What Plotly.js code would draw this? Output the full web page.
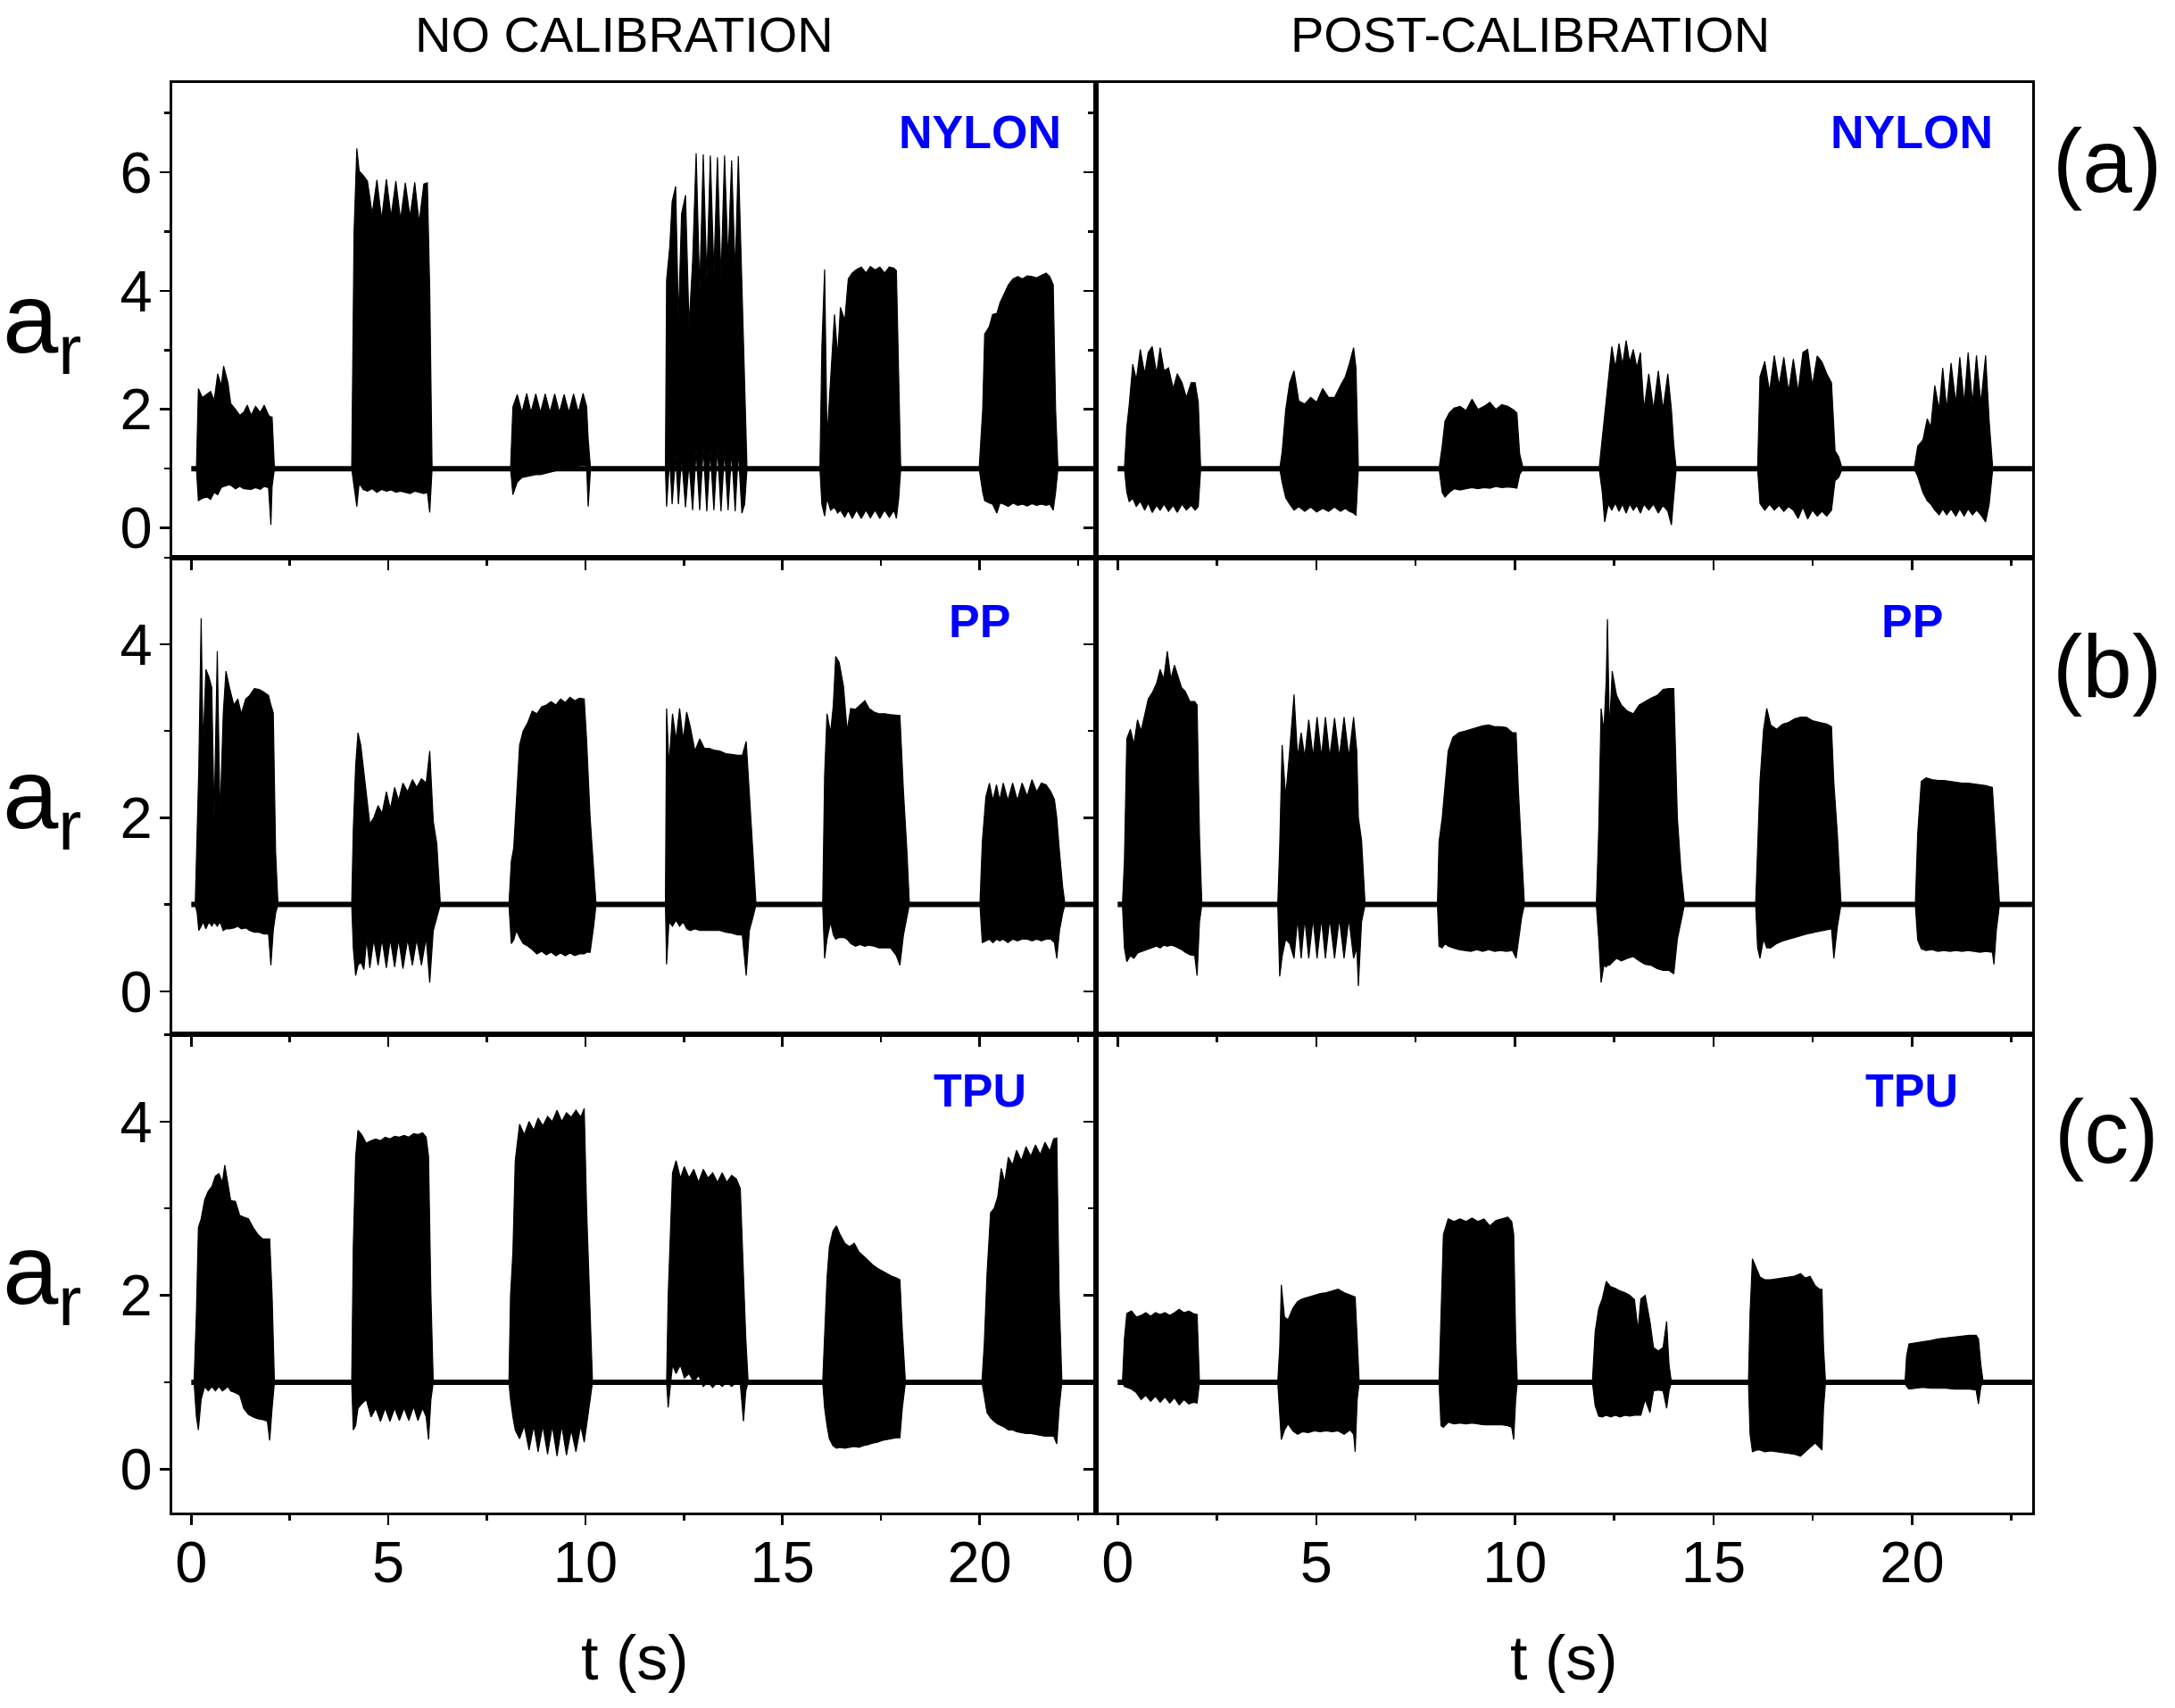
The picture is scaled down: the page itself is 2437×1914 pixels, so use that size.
<!DOCTYPE html>
<html>
<head>
<meta charset="utf-8">
<script src="https://cdn.plot.ly/plotly-3.0.1.min.js"></script>
<style>html,body{margin:0;padding:0;background:#fff;}#chart{width:2437px;height:1914px;}</style>
</head>
<body>
<div id="chart"></div>
<script>
// ---------------- DATA ----------------
// Each burst is described by its envelope: sample times, upper and lower a_r values.
// Bursts are separated by null.
const columnTitles = ["NO CALIBRATION", "POST-CALIBRATION"];
const rowTags = ["(a)", "(b)", "(c)"];
const materials = ["NYLON", "PP", "TPU"];
const xTickValues = [0, 5, 10, 15, 20];

const baselineT = [0, 23.1];
const baselineA = [1, 1];

// NYLON, no calibration
const nylonRawT = [
 0.13,0.18,0.28,0.40,0.49,0.58,0.67,0.76,0.82,0.93,1.00,1.12,1.23,1.33,1.42,1.52,1.63,1.75,1.85,1.96,2.02,2.05,2.11,null,
 4.07,4.13,4.20,4.26,4.36,4.47,4.59,4.71,4.83,4.95,5.07,5.19,5.31,5.43,5.55,5.67,5.78,5.90,5.99,6.05,6.11,null,
 8.10,8.16,8.27,8.39,8.51,8.62,8.74,8.86,8.98,9.10,9.22,9.34,9.46,9.58,9.70,9.82,9.94,10.03,10.07,10.13,null,
 12.03,12.06,12.14,12.20,12.29,12.36,12.44,12.54,12.63,12.72,12.81,12.90,12.99,13.08,13.17,13.26,13.35,13.44,13.53,13.62,13.71,13.80,13.88,13.97,14.04,14.10,null,
 15.95,16.00,16.07,16.13,16.22,16.32,16.40,16.47,16.58,16.67,16.77,16.88,17.00,17.12,17.23,17.35,17.47,17.59,17.71,17.83,17.89,17.95,18.00,null,
 19.99,20.08,20.13,20.25,20.33,20.44,20.52,20.61,20.73,20.85,20.97,21.09,21.21,21.33,21.45,21.57,21.69,21.78,21.87,21.93,21.99];
const nylonRawHi = [
 1,2.35,2.2,2.25,2.3,2.15,2.6,2.4,2.73,2.45,2.1,2.0,1.9,1.95,2.07,1.9,2.05,1.95,2.07,1.9,1.87,1.87,1,null,
 1,5.0,6.4,6.02,5.95,5.85,5.3,5.87,5.2,5.88,5.25,5.85,5.2,5.82,5.25,5.83,5.15,5.8,5.82,4.0,1,null,
 1,2.04,2.25,1.95,2.27,1.95,2.26,1.95,2.26,1.95,2.26,1.95,2.25,1.95,2.26,1.95,2.27,2.05,1.5,1,null,
 1,4.18,4.74,5.5,5.76,3.5,5.3,5.61,3.4,4.5,6.32,4.0,6.3,4.2,6.28,4.3,6.25,4.2,6.28,4.5,6.2,4.3,6.27,4.0,2.5,1,null,
 1,3.06,4.36,1.5,2.5,3.6,2.9,3.72,3.5,4.2,4.3,4.36,4.4,4.3,4.41,4.35,4.4,4.3,4.4,4.38,4.34,2.5,1,null,
 1,2.0,3.27,3.4,3.6,3.62,3.8,3.93,4.1,4.2,4.24,4.2,4.25,4.24,4.22,4.26,4.3,4.24,4.1,2.0,1];
const nylonRawLo = [
 1,0.46,0.5,0.52,0.48,0.6,0.56,0.68,0.7,0.72,0.72,0.66,0.7,0.66,0.66,0.65,0.68,0.65,0.7,0.68,0.05,0.7,1,null,
 1,0.7,0.36,0.75,0.65,0.62,0.66,0.6,0.65,0.62,0.64,0.6,0.62,0.6,0.58,0.62,0.6,0.58,0.6,0.26,1,null,
 1,0.56,0.77,0.85,0.86,0.88,0.9,0.9,0.92,0.94,0.96,0.98,1.0,1.02,1.04,1.05,1.06,1.05,0.36,1,null,
 1,0.36,1.2,0.4,1.22,0.4,1.2,0.35,1.1,0.3,1.3,0.3,1.35,0.28,1.3,0.3,1.35,0.28,1.3,0.3,1.3,0.28,1.3,0.25,0.4,1,null,
 1,0.4,0.2,0.5,0.3,0.35,0.25,0.3,0.18,0.3,0.16,0.3,0.16,0.3,0.17,0.3,0.16,0.3,0.18,0.3,0.16,0.5,1,null,
 1,0.6,0.46,0.42,0.4,0.25,0.42,0.4,0.36,0.42,0.38,0.4,0.37,0.41,0.38,0.4,0.38,0.4,0.3,0.6,1];

// NYLON, post-calibration
const nylonCalT = [
 0.17,0.23,0.29,0.38,0.47,0.57,0.68,0.77,0.87,0.98,1.07,1.17,1.28,1.40,1.50,1.62,1.73,1.85,1.95,2.03,2.09,null,
 4.08,4.14,4.23,4.33,4.44,4.56,4.71,4.86,5.01,5.16,5.31,5.46,5.61,5.73,5.83,5.94,6.00,6.06,null,
 8.09,8.17,8.24,8.35,8.47,8.62,8.77,8.92,9.07,9.22,9.37,9.52,9.67,9.82,9.97,10.05,10.12,10.21,null,
 12.12,12.20,12.26,12.35,12.44,12.53,12.62,12.71,12.80,12.89,12.98,13.07,13.16,13.25,13.37,13.49,13.61,13.73,13.85,13.94,14.00,14.06,null,
 16.11,16.17,16.29,16.41,16.53,16.65,16.77,16.89,17.01,17.13,17.25,17.37,17.49,17.61,17.73,17.85,17.97,18.06,18.15,18.24,null,
 20.05,20.14,20.27,20.38,20.47,20.57,20.68,20.77,20.87,20.98,21.10,21.20,21.31,21.41,21.52,21.62,21.73,21.85,21.94,22.03];
const nylonCalHi = [
 1,1.7,2.07,2.76,2.5,3.01,2.6,2.96,3.06,2.6,3.04,2.65,2.7,2.35,2.6,2.45,2.2,2.45,2.45,2.12,1,null,
 1,1.28,1.99,2.45,2.65,2.14,2.09,2.2,2.12,2.35,2.2,2.2,2.4,2.55,2.76,3.04,2.7,1,null,
 1,1.38,1.8,1.94,2.02,2.05,1.98,2.17,2.0,2.05,2.12,2.0,2.08,2.05,1.99,1.94,1.25,1,null,
 1,1.5,1.89,2.45,3.06,2.7,3.11,2.75,3.16,2.8,3.01,2.7,2.96,2.0,2.6,2.0,2.65,2.0,2.6,2.0,1.4,1,null,
 1,2.55,2.81,2.3,2.91,2.4,2.88,2.3,2.85,2.3,2.96,3.01,2.4,2.9,2.8,2.6,2.45,1.3,1.2,1,null,
 1,1.38,1.48,1.84,1.7,2.4,2.0,2.7,2.0,2.78,2.1,2.88,2.1,2.96,2.1,2.91,2.1,2.91,1.8,1];
const nylonCalLo = [
 1,0.6,0.44,0.5,0.36,0.45,0.3,0.42,0.26,0.38,0.3,0.4,0.28,0.38,0.26,0.4,0.3,0.38,0.3,0.36,1,null,
 1,0.77,0.51,0.4,0.3,0.36,0.28,0.35,0.27,0.33,0.28,0.35,0.28,0.33,0.28,0.25,0.21,1,null,
 1,0.6,0.52,0.6,0.66,0.64,0.66,0.68,0.66,0.68,0.67,0.7,0.68,0.69,0.68,0.67,0.9,1,null,
 1,0.6,0.1,0.4,0.3,0.42,0.28,0.4,0.25,0.4,0.3,0.38,0.25,0.4,0.3,0.4,0.25,0.38,0.28,0.05,0.5,1,null,
 1,0.41,0.3,0.4,0.3,0.38,0.28,0.36,0.3,0.16,0.35,0.15,0.3,0.2,0.28,0.2,0.3,0.8,0.85,1,null,
 1,0.87,0.6,0.46,0.4,0.3,0.22,0.32,0.22,0.32,0.2,0.32,0.2,0.32,0.22,0.3,0.22,0.1,0.4,1];

// PP, no calibration
const ppRawT = [
 0.10,0.15,0.19,0.25,0.30,0.37,0.45,0.52,0.58,0.66,0.73,0.81,0.88,0.97,1.08,1.18,1.27,1.38,1.48,1.60,1.72,1.84,1.96,2.02,2.08,2.14,2.20,null,
 4.07,4.11,4.17,4.23,4.30,4.38,4.45,4.53,4.63,4.74,4.84,4.95,5.05,5.16,5.26,5.37,5.49,5.61,5.72,5.84,5.96,6.05,6.14,6.23,6.32,null,
 8.06,8.12,8.18,8.25,8.33,8.42,8.54,8.65,8.77,8.89,9.01,9.13,9.25,9.37,9.49,9.61,9.73,9.85,9.97,10.03,10.12,10.21,10.27,null,
 12.03,12.06,12.12,12.21,12.30,12.39,12.48,12.57,12.66,12.78,12.90,13.02,13.14,13.26,13.41,13.56,13.71,13.86,13.98,14.08,14.16,14.25,14.33,null,
 16.02,16.07,16.13,16.22,16.29,16.35,16.44,16.55,16.64,16.73,16.85,16.97,17.09,17.20,17.32,17.44,17.59,17.74,17.89,17.98,18.07,18.16,18.22,null,
 20.01,20.07,20.16,20.25,20.34,20.43,20.51,20.60,20.72,20.84,20.96,21.08,21.21,21.33,21.45,21.57,21.69,21.81,21.90,21.96,22.03,22.11,22.17];
const ppRawHi = [
 1,2.0,2.56,4.3,2.8,3.71,3.62,3.5,2.0,3.92,2.0,3.2,3.69,3.5,3.3,3.37,3.2,3.37,3.41,3.49,3.48,3.45,3.41,3.3,3.21,1.6,1,null,
 1,1.86,2.6,2.98,2.84,2.5,2.2,1.93,2.0,2.14,2.05,2.3,2.1,2.35,2.2,2.4,2.3,2.44,2.35,2.45,2.4,2.77,1.96,1.7,1,null,
 1,1.5,1.65,2.21,2.84,3.0,3.1,3.23,3.2,3.28,3.3,3.34,3.3,3.37,3.33,3.39,3.35,3.38,3.37,2.9,2.0,1.4,1,null,
 1,3.26,2.6,3.2,2.9,3.26,2.9,3.22,3.05,2.77,2.91,2.8,2.8,2.78,2.77,2.74,2.73,2.72,2.72,2.88,2.28,1.6,1,null,
 1,2.5,3.2,2.98,3.3,3.86,3.79,3.51,3.0,3.26,3.25,3.3,3.35,3.26,3.22,3.2,3.2,3.19,3.18,3.18,2.3,1.6,1,null,
 1,1.72,2.24,2.4,2.2,2.38,2.2,2.4,2.2,2.4,2.2,2.4,2.25,2.44,2.3,2.4,2.38,2.3,2.21,2.0,1.6,1.2,1];
const ppRawLo = [
 1,0.9,0.7,0.75,0.8,0.72,0.8,0.75,0.8,0.75,0.8,0.7,0.72,0.72,0.73,0.75,0.72,0.73,0.7,0.68,0.68,0.66,0.66,0.3,0.7,0.9,1,null,
 1,0.5,0.18,0.3,0.34,0.25,0.6,0.27,0.6,0.3,0.6,0.27,0.6,0.28,0.6,0.26,0.6,0.3,0.6,0.3,0.62,0.1,0.7,0.85,1,null,
 1,0.55,0.59,0.7,0.62,0.55,0.52,0.48,0.43,0.46,0.42,0.45,0.41,0.44,0.41,0.44,0.41,0.43,0.43,0.45,0.45,0.75,1,null,
 1,0.31,0.8,0.75,0.82,0.75,0.8,0.72,0.7,0.72,0.7,0.7,0.7,0.7,0.7,0.68,0.67,0.65,0.65,0.18,0.7,0.85,1,null,
 1,0.38,0.6,0.8,0.65,0.6,0.62,0.62,0.6,0.55,0.52,0.54,0.52,0.53,0.52,0.5,0.5,0.5,0.41,0.3,0.65,0.85,1,null,
 1,0.56,0.58,0.6,0.56,0.6,0.58,0.6,0.56,0.6,0.58,0.6,0.6,0.58,0.6,0.58,0.6,0.6,0.56,0.38,0.7,0.9,1];

// PP, post-calibration
const ppCalT = [
 0.12,0.17,0.23,0.32,0.41,0.50,0.59,0.68,0.77,0.87,0.98,1.07,1.16,1.25,1.34,1.43,1.52,1.61,1.70,1.82,1.94,2.00,2.06,2.12,null,
 4.03,4.08,4.14,4.23,4.33,4.44,4.53,4.62,4.71,4.81,4.92,5.02,5.13,5.23,5.34,5.46,5.58,5.70,5.82,5.94,6.02,6.06,6.14,6.23,null,
 8.05,8.09,8.17,8.24,8.32,8.44,8.59,8.74,8.89,9.04,9.19,9.34,9.49,9.64,9.79,9.94,10.03,10.09,10.17,10.24,null,
 12.05,12.11,12.17,12.24,12.30,12.33,12.38,12.45,12.56,12.68,12.83,12.98,13.13,13.28,13.43,13.58,13.73,13.88,14.00,14.09,14.18,14.27,null,
 16.06,16.11,16.17,16.26,16.34,16.44,16.59,16.74,16.89,17.04,17.19,17.34,17.49,17.67,17.85,17.97,18.03,18.12,18.21,null,
 20.08,20.14,20.23,20.35,20.50,20.65,20.80,20.95,21.10,21.26,21.41,21.56,21.71,21.86,22.02,22.06,22.12,22.20];
const ppCalHi = [
 1,1.5,2.91,3.02,2.85,3.13,3.0,3.2,3.37,3.44,3.55,3.71,3.6,3.92,3.6,3.76,3.64,3.5,3.46,3.34,3.34,3.3,1.8,1,null,
 1,1.68,2.84,2.24,2.77,3.42,2.7,2.98,2.7,3.13,2.7,3.16,2.7,3.16,2.7,3.15,2.7,3.16,2.7,3.16,2.77,2.0,1.74,1,null,
 1,1.72,2.0,2.39,2.77,2.93,2.98,3.0,3.02,3.04,3.06,3.07,3.05,3.05,3.04,2.98,2.98,2.3,1.6,1,null,
 1,1.86,3.26,3.0,3.6,4.29,3.0,3.69,3.41,3.3,3.23,3.2,3.3,3.34,3.38,3.41,3.48,3.49,3.49,2.0,1.4,1,null,
 1,1.7,2.42,3.02,3.26,3.07,3.02,3.08,3.1,3.14,3.16,3.16,3.12,3.1,3.08,3.05,2.4,1.8,1,null,
 1,1.82,2.42,2.46,2.44,2.43,2.43,2.42,2.41,2.4,2.4,2.39,2.38,2.37,2.35,2.0,1.6,1];
const ppCalLo = [
 1,0.5,0.34,0.41,0.38,0.44,0.45,0.47,0.49,0.5,0.52,0.5,0.53,0.52,0.53,0.52,0.5,0.48,0.45,0.42,0.41,0.18,0.8,1,null,
 1,0.17,0.4,0.6,0.55,0.38,0.84,0.38,0.84,0.38,0.84,0.38,0.84,0.38,0.84,0.38,0.84,0.38,0.84,0.38,0.5,0.06,0.8,1,null,
 1,0.52,0.5,0.55,0.52,0.5,0.48,0.47,0.46,0.48,0.46,0.48,0.46,0.47,0.46,0.47,0.38,0.55,0.85,1,null,
 1,0.6,0.1,0.3,0.28,0.3,0.3,0.33,0.38,0.35,0.38,0.4,0.35,0.31,0.3,0.26,0.24,0.24,0.2,0.6,0.8,1,null,
 1,0.5,0.38,0.6,0.5,0.5,0.55,0.58,0.6,0.62,0.64,0.66,0.68,0.69,0.71,0.72,0.38,0.75,1,null,
 1,0.59,0.49,0.47,0.48,0.46,0.47,0.46,0.47,0.46,0.47,0.46,0.45,0.46,0.45,0.31,0.7,1];

// TPU, no calibration
const tpuRawT = [
 0.07,0.13,0.18,0.25,0.34,0.43,0.52,0.61,0.70,0.79,0.85,0.93,1.00,1.12,1.23,1.33,1.45,1.57,1.69,1.81,1.93,1.99,2.05,2.11,null,
 4.07,4.11,4.17,4.23,4.32,4.44,4.56,4.68,4.80,4.92,5.04,5.16,5.28,5.40,5.52,5.64,5.75,5.87,5.96,6.02,6.08,6.14,null,
 8.06,8.10,8.16,8.22,8.33,8.45,8.57,8.69,8.80,8.92,9.04,9.16,9.28,9.40,9.52,9.64,9.76,9.88,9.97,10.03,10.12,10.18,null,
 12.06,12.10,12.15,12.21,12.30,12.41,12.51,12.63,12.75,12.87,12.99,13.11,13.23,13.35,13.47,13.59,13.71,13.83,13.93,14.01,14.07,14.13,null,
 16.02,16.07,16.13,16.19,16.28,16.37,16.46,16.58,16.70,16.82,16.94,17.06,17.17,17.29,17.41,17.53,17.65,17.77,17.89,17.98,18.04,18.12,null,
 20.06,20.12,20.19,20.28,20.37,20.46,20.55,20.64,20.73,20.84,20.94,21.06,21.18,21.30,21.42,21.54,21.66,21.78,21.88,21.96,22.02,22.09];
const tpuRawHi = [
 1,1.8,2.78,2.88,3.1,3.2,3.25,3.37,3.4,3.3,3.5,3.3,3.09,3.08,2.92,2.9,2.88,2.78,2.7,2.65,2.65,2.65,2.0,1,null,
 1,2.56,3.6,3.9,3.85,3.75,3.78,3.8,3.78,3.82,3.8,3.83,3.82,3.84,3.82,3.86,3.85,3.87,3.82,3.6,2.0,1,null,
 1,2.0,2.5,3.55,3.97,3.85,4.0,3.9,4.04,3.95,4.06,4.0,4.13,4.0,4.1,4.05,4.13,4.05,4.15,3.0,1.8,1,null,
 1,2.0,2.63,3.41,3.55,3.35,3.48,3.35,3.45,3.3,3.45,3.35,3.41,3.3,3.41,3.3,3.38,3.34,3.23,2.3,1.5,1,null,
 1,1.5,2.2,2.56,2.74,2.8,2.7,2.6,2.56,2.6,2.5,2.45,2.4,2.35,2.31,2.28,2.25,2.22,2.2,2.18,1.6,1,null,
 1,1.44,2.25,2.95,3.0,3.13,3.46,3.3,3.59,3.5,3.67,3.55,3.71,3.6,3.73,3.62,3.76,3.66,3.8,3.81,2.0,1];
const tpuRawLo = [
 1,0.6,0.45,0.8,0.95,0.9,0.95,0.9,0.95,0.9,0.92,0.95,0.9,0.88,0.85,0.7,0.63,0.6,0.58,0.57,0.55,0.33,0.7,1,null,
 1,0.45,0.5,0.7,0.75,0.8,0.6,0.7,0.55,0.7,0.55,0.7,0.56,0.7,0.56,0.72,0.56,0.7,0.6,0.34,0.8,1,null,
 1,0.8,0.6,0.45,0.35,0.5,0.22,0.5,0.2,0.5,0.17,0.5,0.15,0.5,0.16,0.45,0.2,0.5,0.31,0.5,0.8,1,null,
 1,0.71,0.9,1.2,1.1,1.2,1.05,1.1,1.0,1.08,0.95,1.0,0.94,1.0,0.95,1.0,0.95,1.0,0.98,0.55,0.9,1,null,
 1,0.7,0.5,0.35,0.27,0.24,0.25,0.24,0.25,0.26,0.25,0.27,0.28,0.3,0.31,0.33,0.34,0.35,0.36,0.36,0.7,1,null,
 1,0.85,0.65,0.59,0.55,0.52,0.5,0.48,0.45,0.45,0.43,0.42,0.41,0.41,0.4,0.39,0.38,0.38,0.38,0.29,0.7,1];

// TPU, post-calibration
const tpuCalT = [
 0.12,0.17,0.23,0.35,0.47,0.59,0.71,0.83,0.95,1.07,1.19,1.31,1.43,1.55,1.67,1.79,1.91,2.00,2.06,null,
 4.03,4.08,4.12,4.20,4.29,4.41,4.53,4.65,4.80,4.95,5.10,5.25,5.40,5.55,5.70,5.85,5.94,5.98,6.03,6.08,null,
 8.09,8.14,8.20,8.32,8.47,8.62,8.77,8.92,9.07,9.22,9.37,9.52,9.67,9.82,9.92,9.97,10.02,10.06,null,
 11.95,12.02,12.11,12.20,12.30,12.41,12.53,12.65,12.77,12.89,13.01,13.10,13.17,13.28,13.40,13.49,13.61,13.73,13.82,13.88,13.94,null,
 15.88,15.92,15.98,16.08,16.17,16.29,16.44,16.59,16.74,16.89,17.04,17.19,17.31,17.43,17.56,17.67,17.73,17.77,17.82,null,
 19.82,19.86,19.92,20.08,20.27,20.47,20.66,20.86,21.05,21.25,21.44,21.61,21.67,21.73,21.79];
const tpuCalHi = [
 1,1.5,1.79,1.82,1.75,1.77,1.8,1.76,1.8,1.78,1.8,1.77,1.8,1.84,1.8,1.82,1.79,1.78,1,null,
 1,1.4,2.12,1.75,1.72,1.85,1.93,1.96,1.98,2.0,2.02,2.03,2.05,2.07,2.03,2.0,1.98,1.98,1.5,1,null,
 1,1.8,2.7,2.88,2.85,2.88,2.85,2.89,2.85,2.88,2.8,2.86,2.88,2.9,2.85,2.7,1.5,1,null,
 1,1.58,1.85,1.96,2.16,2.1,2.08,2.05,2.03,2.0,1.95,1.6,1.96,2.0,1.7,1.4,1.36,1.4,1.7,1.2,1,null,
 1,1.8,2.42,2.3,2.21,2.18,2.18,2.19,2.2,2.21,2.22,2.25,2.2,2.22,2.11,2.07,2.07,1.4,1,null,
 1,1.3,1.44,1.45,1.46,1.48,1.5,1.51,1.52,1.53,1.54,1.54,1.5,1.2,1];
const tpuCalLo = [
 1,0.95,0.94,0.92,0.88,0.8,0.85,0.78,0.84,0.77,0.83,0.76,0.82,0.74,0.8,0.75,0.77,0.76,1,null,
 1,0.7,0.34,0.45,0.52,0.44,0.4,0.43,0.42,0.44,0.43,0.44,0.43,0.44,0.4,0.45,0.4,0.2,0.8,1,null,
 1,0.5,0.48,0.54,0.52,0.53,0.52,0.53,0.52,0.51,0.51,0.51,0.51,0.5,0.48,0.34,0.8,1,null,
 1,0.73,0.61,0.6,0.62,0.6,0.62,0.6,0.62,0.61,0.62,0.62,0.62,0.8,0.65,0.9,0.91,0.9,0.7,0.9,1,null,
 1,0.4,0.2,0.22,0.22,0.2,0.21,0.2,0.19,0.18,0.17,0.15,0.2,0.25,0.3,0.25,0.22,0.7,1,null,
 1,0.95,0.92,0.93,0.94,0.93,0.93,0.93,0.92,0.92,0.92,0.91,0.75,0.95,1];

// ---------------- BUILD ----------------
const FONT = "Liberation Sans, Arial, Helvetica, sans-serif";
const panels = [
  {r:0,c:0,T:nylonRawT,Hi:nylonRawHi,Lo:nylonRawLo},
  {r:0,c:1,T:nylonCalT,Hi:nylonCalHi,Lo:nylonCalLo},
  {r:1,c:0,T:ppRawT,Hi:ppRawHi,Lo:ppRawLo},
  {r:1,c:1,T:ppCalT,Hi:ppCalHi,Lo:ppCalLo},
  {r:2,c:0,T:tpuRawT,Hi:tpuRawHi,Lo:tpuRawLo},
  {r:2,c:1,T:tpuCalT,Hi:tpuCalHi,Lo:tpuCalLo}
];
const colDom = [[0.07907,0.50382],[0.50382,0.93430]];
const rowDom = [[0.67356,0.95125],[0.39425,0.67356],[0.11442,0.39425]];
const xRanges = [[-0.49,22.95],[-0.55,23.02]];
const yRanges = [[-0.5,7.5],[-0.5,5.0],[-0.5,5.0]];
const labelY = [6.67,4.27,4.36];

function envelopePolygons(T, Hi, Lo){
  const xs=[], ys=[];
  let st=[], sh=[], sl=[];
  const flush=()=>{
    if(st.length){
      xs.push(...st, ...st.slice().reverse(), null);
      ys.push(...sh, ...sl.slice().reverse(), null);
    }
    st=[]; sh=[]; sl=[];
  };
  for(let i=0;i<T.length;i++){
    if(T[i]===null){ flush(); }
    else { st.push(T[i]); sh.push(Hi[i]); sl.push(Lo[i]); }
  }
  flush();
  return {xs, ys};
}

const traces = [];
const layout = {
  width: 2437, height: 1914,
  margin: {l:0,r:0,t:0,b:0},
  paper_bgcolor: '#fff', plot_bgcolor: '#fff',
  showlegend: false,
  font: {family: FONT, color: '#000', size: 40},
  annotations: []
};

panels.forEach(p=>{
  const idx = p.r*2 + p.c + 1;
  const xa = idx===1 ? 'x' : 'x'+idx;
  const ya = idx===1 ? 'y' : 'y'+idx;
  const xk = idx===1 ? 'xaxis' : 'xaxis'+idx;
  const yk = idx===1 ? 'yaxis' : 'yaxis'+idx;
  traces.push({
    type:'scatter', mode:'lines', x: baselineT, y: baselineA,
    xaxis: xa, yaxis: ya, line:{color:'#000', width:6}, hoverinfo:'skip'
  });
  const poly = envelopePolygons(p.T, p.Hi, p.Lo);
  traces.push({
    type:'scatter', mode:'lines', x: poly.xs, y: poly.ys, fill:'toself',
    fillcolor:'#000', line:{color:'#000', width:1.2}, connectgaps:false,
    xaxis: xa, yaxis: ya, hoverinfo:'skip'
  });
  layout[xk] = {
    domain: colDom[p.c], range: xRanges[p.c], anchor: ya,
    showline:true, mirror:true, linecolor:'#000', linewidth:3,
    ticks:'outside', ticklen:11, tickwidth:2.5, tickcolor:'#000',
    tickvals: xTickValues, ticktext: xTickValues.map(String),
    minor:{ticks:'outside', ticklen:6, tickwidth:2.5, tickcolor:'#000', dtick:2.5, tick0:0, showgrid:false},
    showgrid:false, zeroline:false, showticklabels: p.r===2,
    ticklabelstandoff: -14,
    tickfont:{size:65, family:FONT, color:'#000'}, fixedrange:true
  };
  layout[yk] = {
    domain: rowDom[p.r], range: yRanges[p.r], anchor: xa,
    showline:true, mirror:true, linecolor:'#000', linewidth:3,
    ticks:'outside', ticklen:11, tickwidth:2.5, tickcolor:'#000',
    dtick:2, tick0:0,
    minor:{ticks:'outside', ticklen:6, tickwidth:2.5, tickcolor:'#000', dtick:1, tick0:0, showgrid:false},
    showgrid:false, zeroline:false, showticklabels: p.c===0,
    ticklabelstandoff: -5,
    tickfont:{size:65, family:FONT, color:'#000'}, fixedrange:true
  };
  layout.annotations.push({
    xref: xa, yref: ya, x: 20, y: labelY[p.r], text: '<b>' + materials[p.r] + '</b>',
    showarrow:false, xanchor:'center', yanchor:'middle',
    font:{family:FONT, size:52, color:'#0000FF'}
  });
});

// column titles
layout.annotations.push({xref:'paper',yref:'paper',x:0.2872,y:0.9801,text:columnTitles[0],showarrow:false,xanchor:'center',yanchor:'middle',font:{size:56,family:FONT,color:'#000'}});
layout.annotations.push({xref:'paper',yref:'paper',x:0.7037,y:0.9801,text:columnTitles[1],showarrow:false,xanchor:'center',yanchor:'middle',font:{size:56,family:FONT,color:'#000'}});
// row tags
const tagY = [0.906, 0.6095, 0.3375];
rowTags.forEach((t,i)=>layout.annotations.push({xref:'paper',yref:'paper',x:0.9688,y:tagY[i],text:t,showarrow:false,xanchor:'center',yanchor:'middle',font:{size:100,family:FONT,color:'#000'}}));
// y axis titles
const arY = [0.8093, 0.5308, 0.2524];
arY.forEach(y=>layout.annotations.push({xref:'paper',yref:'paper',x:0.0193,y:y,text:'a<sub>r</sub>',showarrow:false,xanchor:'center',yanchor:'middle',font:{size:112,family:FONT,color:'#000'}}));
// x axis titles
[0.2918, 0.7193].forEach(x=>layout.annotations.push({xref:'paper',yref:'paper',x:x,y:0.0293,text:'t (s)',showarrow:false,xanchor:'center',yanchor:'middle',font:{size:70,family:FONT,color:'#000'}}));

Plotly.newPlot('chart', traces, layout, {displayModeBar:false, staticPlot:true});
</script>
</body>
</html>
